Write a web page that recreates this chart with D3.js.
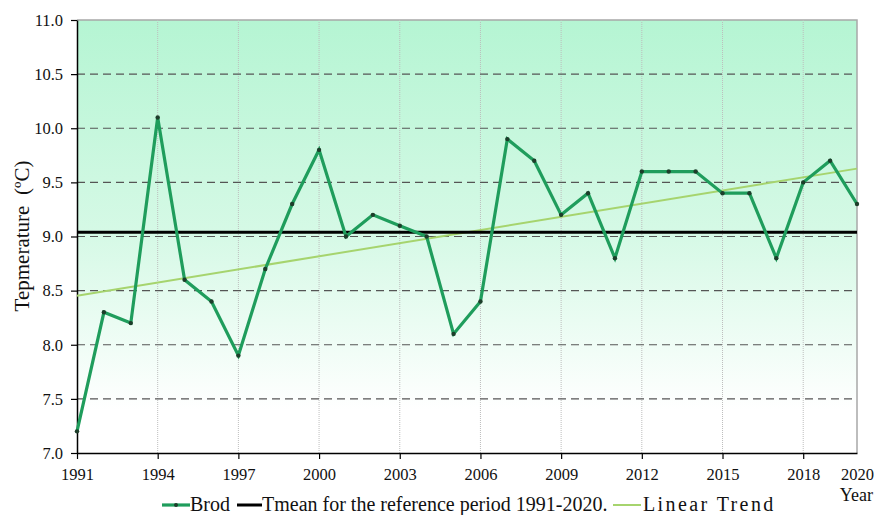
<!DOCTYPE html>
<html>
<head>
<meta charset="utf-8">
<script src="https://cdn.jsdelivr.net/npm/d3@7"></script>
<style>
  html, body { margin: 0; padding: 0; background: #fff; }
  svg text { font-family: "Liberation Serif", "DejaVu Serif", "Noto Serif", serif !important; }
</style>
</head>
<body>
<svg id="chart" width="875" height="515"></svg>
<script>
// Annual mean air temperature, Brod, 1991-2020
const years = d3.range(1991, 2021);
const temps = [7.2, 8.3, 8.2, 10.1, 8.6, 8.4, 7.9, 8.7, 9.3, 9.8,
               9.0, 9.2, 9.1, 9.0, 8.1, 8.4, 9.9, 9.7, 9.2, 9.4,
               8.8, 9.6, 9.6, 9.6, 9.4, 9.4, 8.8, 9.5, 9.7, 9.3];
const xTicks = [1991, 1994, 1997, 2000, 2003, 2006, 2009, 2012, 2015, 2018, 2020];
const yTicks = [7.0, 7.5, 8.0, 8.5, 9.0, 9.5, 10.0, 10.5, 11.0];
const legendLabels = ["Brod", "Tmean for the reference period 1991-2020.", "Linear Trend"];

const data = years.map((y, i) => ({ year: y, t: temps[i] }));
const tMean = d3.mean(temps);

// least-squares trend
const xm = d3.mean(years);
const slope = d3.sum(data, d => (d.year - xm) * (d.t - tMean)) / d3.sum(data, d => (d.year - xm) ** 2);
const trend = d => tMean + slope * (d - xm);

const svg = d3.select("#chart");
const m = { left: 77, right: 857, top: 20, bottom: 453 };

const x = d3.scaleLinear().domain([1991, 2020]).range([m.left, m.right]);
const y = d3.scaleLinear().domain([7, 11]).range([m.bottom, m.top]);

// plot background gradient
const defs = svg.append("defs");
const grad = defs.append("linearGradient").attr("id", "bg").attr("x1", 0).attr("y1", 0).attr("x2", 0).attr("y2", 1);
grad.append("stop").attr("offset", "0%").attr("stop-color", "#b5f5d3");
grad.append("stop").attr("offset", "50%").attr("stop-color", "#d6f9e6");
grad.append("stop").attr("offset", "90%").attr("stop-color", "#ffffff");
grad.append("stop").attr("offset", "100%").attr("stop-color", "#ffffff");

svg.append("rect")
  .attr("x", m.left).attr("y", m.top)
  .attr("width", m.right - m.left).attr("height", m.bottom - m.top)
  .attr("fill", "url(#bg)");

// frame: top and right in grey
svg.append("path")
  .attr("d", `M${m.left},${m.top}H${m.right}V${m.bottom}`)
  .attr("fill", "none").attr("stroke", "#a8a8a8").attr("stroke-width", 1.5);

// vertical dotted grid
svg.append("g").selectAll("line")
  .data(xTicks.filter(d => d > 1991 && d < 2020))
  .join("line")
  .attr("x1", d => x(d)).attr("x2", d => x(d))
  .attr("y1", m.top).attr("y2", m.bottom)
  .attr("stroke", "#bdbdbd").attr("stroke-width", 1).attr("stroke-dasharray", "1,1");

// horizontal dashed grid
svg.append("g").selectAll("line")
  .data(yTicks.filter(d => d > 7 && d < 11))
  .join("line")
  .attr("x1", m.left).attr("x2", m.right)
  .attr("y1", d => y(d)).attr("y2", d => y(d))
  .attr("stroke", "#555").attr("stroke-width", 1.2).attr("stroke-dasharray", "8,5");

// axes
const xAxis = d3.axisBottom(x).tickValues(xTicks).tickFormat(d3.format("d")).tickSize(6).tickSizeOuter(0);
const gx = svg.append("g").attr("transform", `translate(0,${m.bottom})`).call(xAxis);
gx.select(".domain").attr("stroke", "#000").attr("stroke-width", 1.5);
gx.selectAll(".tick line").attr("stroke", "#000").attr("stroke-width", 1.2);
gx.selectAll(".tick text").attr("font-size", 16.5).attr("fill", "#111").attr("dy", "1.1em");
gx.selectAll(".tick").filter(d => d === 2020).select("line").remove();

const yAxis = d3.axisLeft(y).tickValues(yTicks).tickFormat(d3.format(".1f")).tickSize(6).tickSizeOuter(0);
const gy = svg.append("g").attr("transform", `translate(${m.left},0)`).call(yAxis);
gy.select(".domain").attr("stroke", "#000").attr("stroke-width", 1.5);
gy.selectAll(".tick line").attr("stroke", "#000").attr("stroke-width", 1.2);
gy.selectAll(".tick text").attr("font-size", 16.5).attr("fill", "#111").attr("x", -14);

// axis titles
svg.append("text")
  .attr("transform", "translate(29,236) rotate(-90)")
  .attr("text-anchor", "middle").attr("font-size", 21).attr("fill", "#111")
  .style("white-space", "pre")
  .text("Tepmerature  (ºC)");
svg.append("text")
  .attr("x", 873).attr("y", 501).attr("text-anchor", "end")
  .attr("font-size", 18).attr("fill", "#111").text("Year");

// trend line
svg.append("line")
  .attr("x1", x(1991)).attr("y1", y(trend(1991)))
  .attr("x2", x(2020)).attr("y2", y(trend(2020)))
  .attr("stroke", "#a6d46e").attr("stroke-width", 2);

// reference-period mean
svg.append("line")
  .attr("x1", m.left).attr("x2", m.right)
  .attr("y1", y(tMean)).attr("y2", y(tMean))
  .attr("stroke", "#000").attr("stroke-width", 3);

// temperature series
svg.append("path")
  .datum(data)
  .attr("d", d3.line().x(d => x(d.year)).y(d => y(d.t)))
  .attr("fill", "none").attr("stroke", "#1f9d5c").attr("stroke-width", 3.2)
  .attr("stroke-linejoin", "miter");

svg.append("g").selectAll("circle")
  .data(data)
  .join("circle")
  .attr("cx", d => x(d.year)).attr("cy", d => y(d.t)).attr("r", 2.2)
  .attr("fill", "#1d3d2a");

// legend
const lg = svg.append("g").attr("font-size", 20).attr("fill", "#111");
const ly = 505;
lg.append("line").attr("x1", 162).attr("x2", 190).attr("y1", ly).attr("y2", ly)
  .attr("stroke", "#1f9d5c").attr("stroke-width", 3.2);
lg.append("circle").attr("cx", 176).attr("cy", ly).attr("r", 2).attr("fill", "#1d3d2a");
lg.append("text").attr("x", 190).attr("y", ly + 6).text(legendLabels[0]);
lg.append("line").attr("x1", 237).attr("x2", 262).attr("y1", ly).attr("y2", ly)
  .attr("stroke", "#000").attr("stroke-width", 3);
lg.append("text").attr("x", 262).attr("y", ly + 6).text(legendLabels[1]);
lg.append("line").attr("x1", 613).attr("x2", 641).attr("y1", ly).attr("y2", ly)
  .attr("stroke", "#a6d46e").attr("stroke-width", 2);
lg.append("text").attr("x", 643).attr("y", ly + 6)
  .attr("letter-spacing", 2.4).text(legendLabels[2]);
</script>
</body>
</html>
